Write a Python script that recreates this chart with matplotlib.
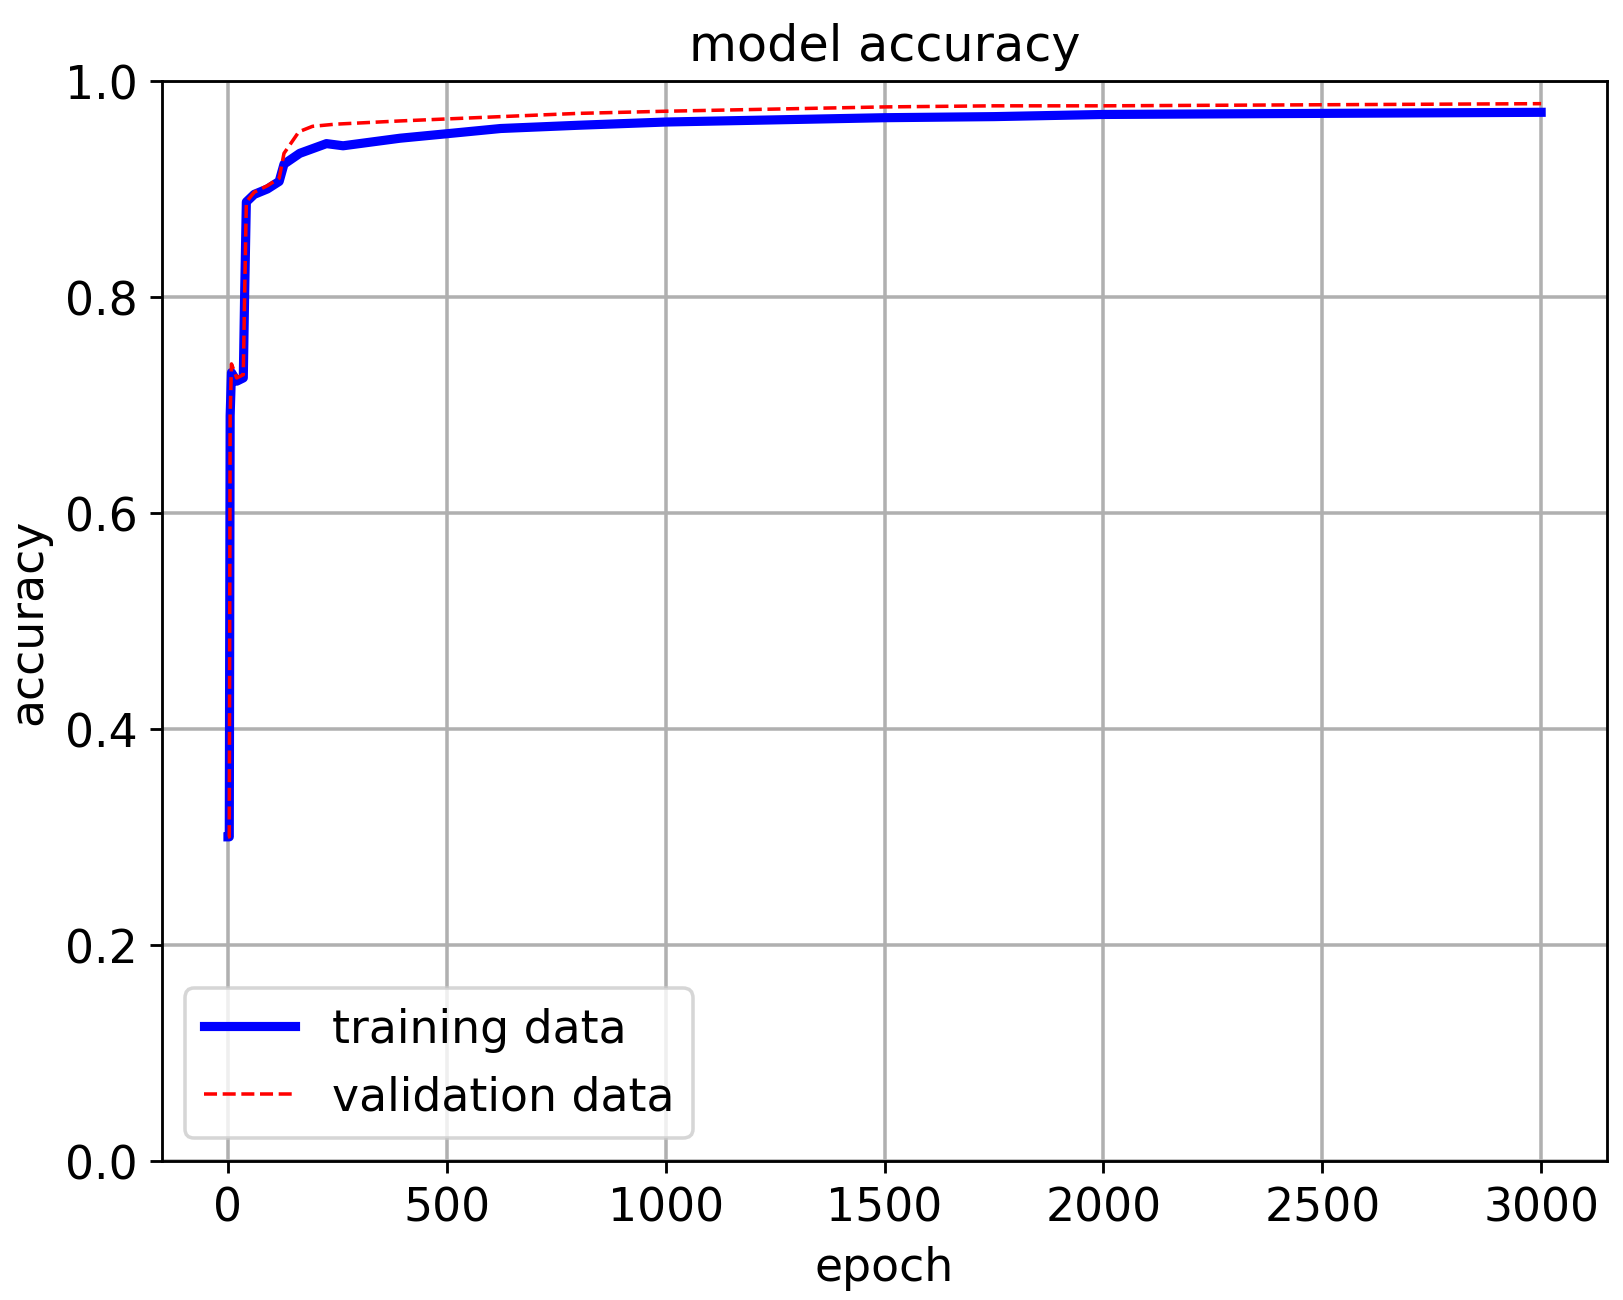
import matplotlib
matplotlib.use("Agg")
import matplotlib.pyplot as plt

train_epoch = [0, 3, 5, 8, 20, 35, 38, 42, 60, 90, 117, 128, 164, 225, 263, 393, 496, 623, 800, 1000, 1250, 1500, 1750, 2000, 2500, 3000]
train_acc   = [0.30, 0.30, 0.69, 0.73, 0.722, 0.725, 0.80, 0.888, 0.895, 0.90, 0.907, 0.923, 0.933, 0.942, 0.940, 0.947, 0.951, 0.956, 0.959, 0.962, 0.964, 0.966, 0.967, 0.969, 0.970, 0.971]
val_epoch = [0, 3, 5, 8, 20, 35, 38, 42, 60, 90, 117, 128, 162, 193, 245, 393, 623, 800, 1000, 1250, 1500, 1750, 2000, 2500, 3000]
val_acc   = [0.30, 0.30, 0.69, 0.738, 0.725, 0.728, 0.80, 0.888, 0.897, 0.903, 0.910, 0.933, 0.953, 0.958, 0.960, 0.963, 0.967, 0.970, 0.972, 0.974, 0.976, 0.977, 0.977, 0.978, 0.979]

plt.rcParams['font.size'] = 13
fig, ax = plt.subplots(figsize=(6.4, 5.13), dpi=253.6)
ax.plot(train_epoch, train_acc, color='blue', lw=2.6, label='training data')
ax.plot(val_epoch, val_acc, color='red', lw=1.0, ls='--', label='validation data')
ax.set_ylim(0, 1.0)
ax.set_title('model accuracy', fontsize=14)
ax.set_xlabel('epoch')
ax.set_ylabel('accuracy')
ax.grid(True, lw=1.0)
ax.legend(loc='lower left')
fig.subplots_adjust(left=0.1, right=0.99, top=0.937, bottom=0.107)
fig.savefig('out.png')
